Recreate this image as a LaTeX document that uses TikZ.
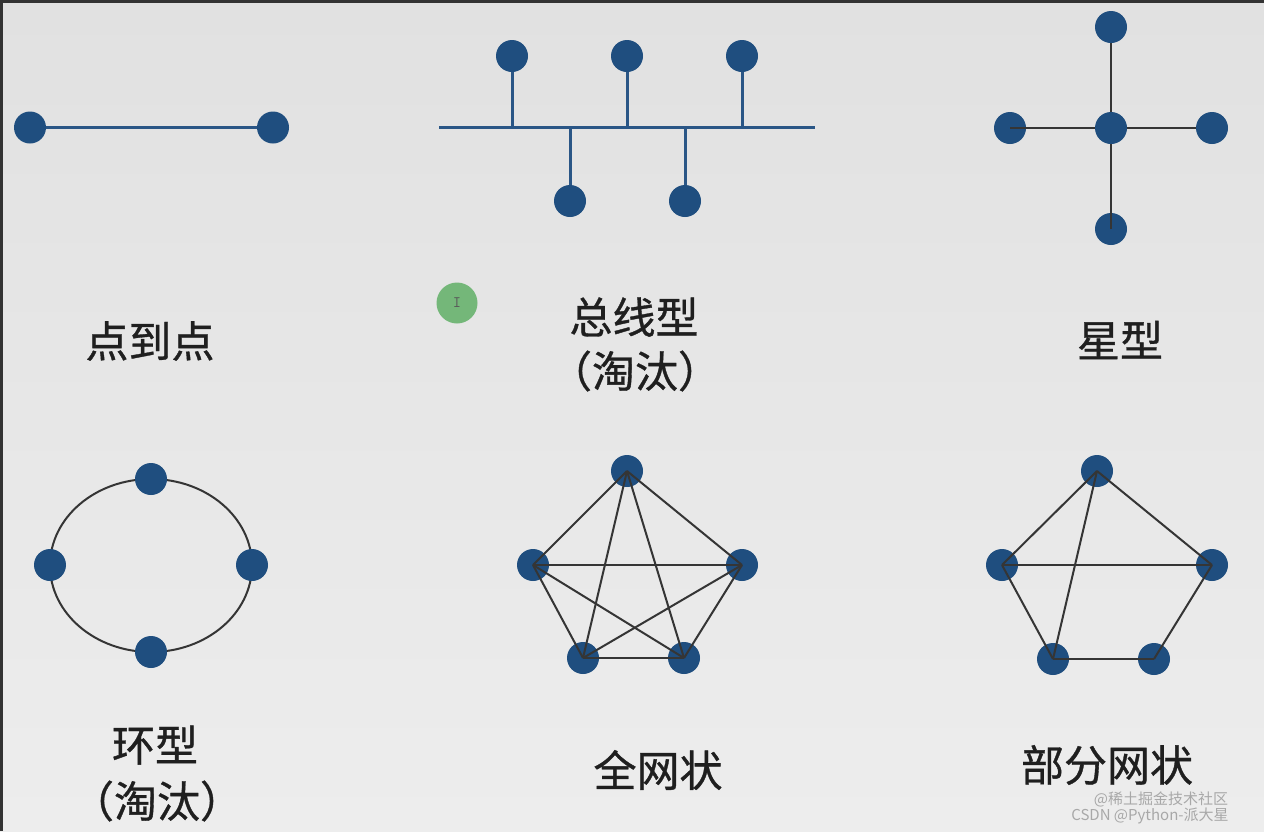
\documentclass[tikz,border=0pt]{standalone}
\usepackage{fontspec}
\newfontfamily\cjk[FakeBold=0.8]{Noto Sans CJK SC}
\newfontfamily\cjkw{Noto Sans CJK SC}
\definecolor{nodeblue}{HTML}{1F4E7F}
\definecolor{busblue}{HTML}{2A5686}
\definecolor{edgegray}{HTML}{353535}
\definecolor{cursorgreen}{HTML}{74B779}
\definecolor{bgtop}{HTML}{E1E1E1}
\definecolor{bgbot}{HTML}{EDEDED}
\definecolor{wmgray}{HTML}{A8A8A8}
\tikzset{
  dot/.style={circle,fill=nodeblue,minimum size=32pt,inner sep=0pt},
  blueline/.style={draw=busblue,line width=3pt},
  greyline/.style={draw=edgegray,line width=2pt},
  lab/.style={font=\cjk\fontsize{43}{47}\selectfont,text=black!88,inner sep=0pt},
  wmark/.style={font=\cjkw\fontsize{15}{15}\selectfont,text=wmgray,inner sep=0pt}
}
\begin{document}
\begin{tikzpicture}[x=1pt,y=-1pt]
\useasboundingbox (0,0) rectangle (1264,831);
\shade[top color=bgtop,bottom color=bgbot] (0,0) rectangle (1264,831);
\fill[black!80] (0,0) rectangle (1264,3);
\fill[black!80] (0,0) rectangle (3,831);

% point to point
\node[dot] (p1) at (30,127.5) {};
\node[dot] (p2) at (273,127.5) {};
\draw[blueline] (p1) -- (p2);

% bus
\coordinate (bl) at (439,127);
\coordinate (br) at (815,127);
\draw[blueline] (bl) -- (br);
\node[dot] (b1) at (512,56) {};
\node[dot] (b2) at (627,56) {};
\node[dot] (b3) at (742,56) {};
\node[dot] (b4) at (570,201) {};
\node[dot] (b5) at (685,201) {};
\foreach \n in {b1,b2,b3,b4,b5}{
  \draw[blueline] (\n) -- (\n |- bl);
}

% star
\node[dot] (sc) at (1111,128) {};
\node[dot] (st) at (1111,27) {};
\node[dot] (sb) at (1111,229) {};
\node[dot] (sl) at (1010,128) {};
\node[dot] (sr) at (1212,128) {};
\draw[greyline] (sc.north) -- (st);
\draw[greyline] (sc.east) -- (sr);
\draw[greyline] (sc.west) -- (sl.center);
\draw[greyline] (sc.south) -- (sb.center);

% labels row 1
\node[lab] (l1) at (150,341) {点到点};
\node[lab] (l2) at (634,317) {总线型};
\node[lab] (l2b) at (635,371) {（淘汰）};
\node[lab] (l3) at (1120,340) {星型};

% cursor
\node[circle,fill=cursorgreen,minimum size=41pt,inner sep=0pt] (cur) at (457,303) {};
\node[font=\fontsize{16}{16}\selectfont\ttfamily,text=black!65] (curi) at (cur) {I};

% ring
\draw[greyline] (151,565.5) ellipse [x radius=101, y radius=86.5];
\node[dot] (r1) at (151,479) {};
\node[dot] (r2) at (50,565) {};
\node[dot] (r3) at (252,565) {};
\node[dot] (r4) at (151,652) {};

% full mesh
\node[dot] (f1) at (627,471) {};
\node[dot] (f2) at (533,565) {};
\node[dot] (f3) at (742,565) {};
\node[dot] (f4) at (583,658) {};
\node[dot] (f5) at (684,658) {};
\foreach \a/\b in {f1/f2,f1/f3,f1/f4,f1/f5,f2/f3,f2/f4,f2/f5,f3/f4,f3/f5,f4/f5}{
  \draw[greyline] (\a.center) -- (\b.center);
}

% partial mesh
\node[dot] (m1) at (1097,471) {};
\node[dot] (m2) at (1002,565) {};
\node[dot] (m3) at (1212,565) {};
\node[dot] (m4) at (1053,659) {};
\node[dot] (m5) at (1154,659) {};
\foreach \a/\b in {m1/m2,m1/m3,m1/m4,m2/m3,m2/m4,m4/m5,m5/m3}{
  \draw[greyline] (\a.center) -- (\b.center);
}

% labels row 2
\node[lab] (l4) at (155,745) {环型};
\node[lab] (l4b) at (157,801) {（淘汰）};
\node[lab] (l5) at (658,770) {全网状};
\node[lab] (l6) at (1107,765) {部分网状};

% watermark
\node[wmark] (w1) at (1161,799) {@稀土掘金技术社区};
\node[wmark] (w2) at (1150,816) {CSDN @Python-派大星};
\end{tikzpicture}
\end{document}
